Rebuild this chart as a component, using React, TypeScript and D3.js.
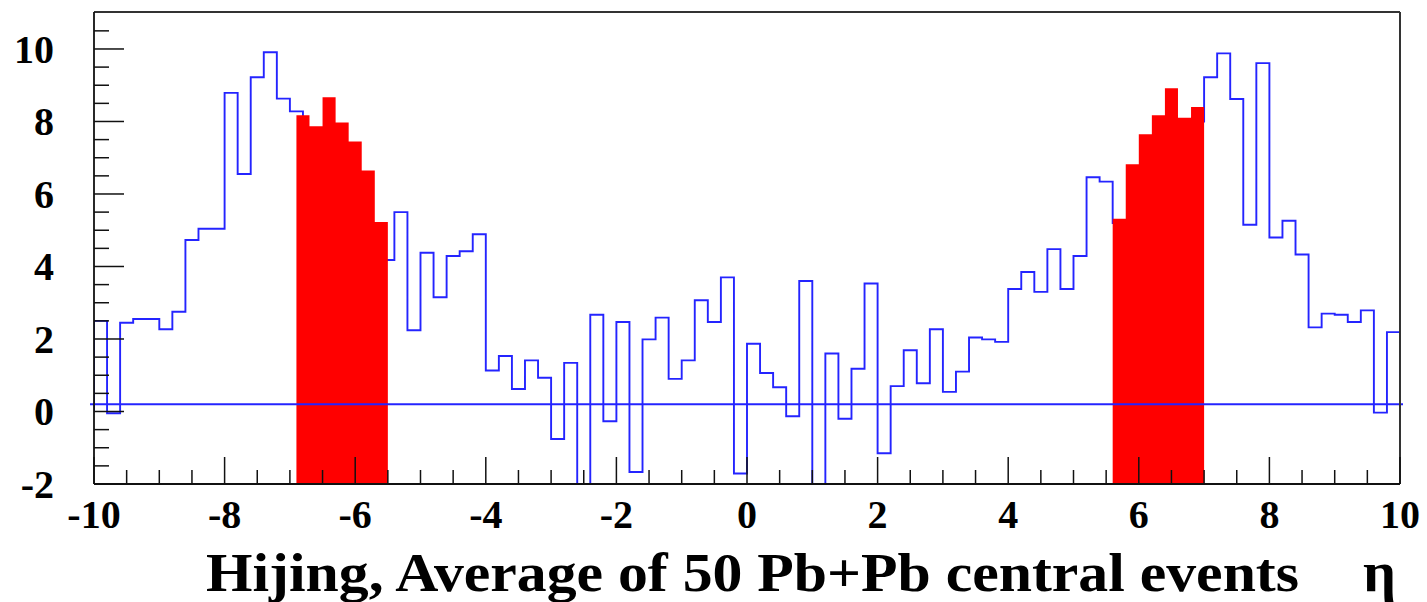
import React from "react";
import * as d3 from "d3";

// ---- data ----
const etaMin = -10;
const etaMax = 10;
const binWidth = 0.2;
// 100 bins of 0.2 from -10 to 10 (blue histogram; bins under the red fill are estimates)
const blueValues: number[] = [
  2.5, -0.05, 2.45, 2.55, 2.55, 2.27, 2.75, 4.73, 5.04, 5.04,
  8.79, 6.55, 9.22, 9.91, 8.63, 8.28, 7.8, 7.8, 7.9, 7.4,
  6.6, 5.0, 4.18, 5.5, 2.24, 4.38, 3.15, 4.29, 4.42, 4.89,
  1.13, 1.53, 0.62, 1.41, 0.93, -0.76, 1.34, -2.5, 2.67, -0.27,
  2.47, -1.67, 1.99, 2.59, 0.9, 1.41, 3.07, 2.47, 3.7, -1.71,
  1.87, 1.06, 0.67, -0.13, 3.6, -2.5, 1.6, -0.2, 1.18, 3.53,
  -1.15, 0.7, 1.69, 0.78, 2.27, 0.54, 1.1, 2.04, 1.99, 1.92,
  3.38, 3.85, 3.3, 4.48, 3.38, 4.29, 6.46, 6.34, 5.2, 5.2,
  6.7, 7.5, 8.0, 8.0, 8.0, 9.22, 9.88, 8.62, 5.15, 9.61,
  4.8, 5.26, 4.33, 2.32, 2.7, 2.67, 2.47, 2.79, -0.03, 2.19,
];
// red filled regions
const redLeftStarts: number[] = [-6.9, -6.7, -6.5, -6.3, -6.1, -5.9, -5.7];
const redLeftValues: number[] = [8.17, 7.87, 8.67, 7.97, 7.45, 6.65, 5.23];
const redRightStarts: number[] = [5.6, 5.8, 6.0, 6.2, 6.4, 6.6, 6.8];
const redRightValues: number[] = [5.32, 6.82, 7.65, 8.17, 8.92, 8.1, 8.4];
const refLineValue = 0.2;
const yMin = -2;
const yMax = 11.02;
const xTickLabels: number[] = [-10, -8, -6, -4, -2, 0, 2, 4, 6, 8, 10];
const yTickLabels: number[] = [-2, 0, 2, 4, 6, 8, 10];
const titleText = "Hijing, Average of 50 Pb+Pb central events";
const etaText = "η";

const W = 1427;
const H = 602;
const FONT = "'Liberation Serif', 'Times New Roman', serif";

export default function App() {
  const x = d3.scaleLinear().domain([etaMin, etaMax]).range([94, 1400]);
  const y = d3.scaleLinear().domain([yMin, yMax]).range([484, 12]);

  // blue histogram outline
  const pts: [number, number][] = [[x(etaMin), y(0)]];
  blueValues.forEach((v, i) => {
    const lo = etaMin + i * binWidth;
    const hi = lo + binWidth;
    pts.push([x(lo), y(v)]);
    pts.push([x(hi), y(v)]);
  });
  pts.push([x(etaMax), y(0)]);
  const bluePath = d3.line()(pts) || "";

  const redPath = (starts: number[], vals: number[]) => {
    const data = starts.map((s, i) => ({ s, v: vals[i] }));
    data.push({ s: starts[starts.length - 1] + binWidth, v: vals[vals.length - 1] });
    const area = d3
      .area<{ s: number; v: number }>()
      .x((d) => x(d.s))
      .y0(y(yMin))
      .y1((d) => y(d.v))
      .curve(d3.curveStepAfter);
    return area(data) || "";
  };

  const yTicks = d3.range(yMin, 10.51, 0.5);
  const xTicks = d3.range(etaMin, etaMax + 0.01, 0.5);
  const isMajor = (v: number) => Math.abs(v / 2 - Math.round(v / 2)) < 1e-6;

  return (
    <svg
      width={W}
      height={H}
      style={{ position: "fixed", left: 0, top: 0, display: "block", background: "#fff" }}
    >
      <defs>
        <clipPath id="plotClip">
          <rect x={x(etaMin)} y={y(yMax)} width={x(etaMax) - x(etaMin)} height={y(yMin) - y(yMax)} />
        </clipPath>
      </defs>
      <rect x={0} y={0} width={W} height={H} fill="#fff" />
      <g clipPath="url(#plotClip)">
        <path d={bluePath} fill="none" stroke="#2424ff" strokeWidth={1.9} />
        <path d={redPath(redLeftStarts, redLeftValues)} fill="#ff0000" />
        <path d={redPath(redRightStarts, redRightValues)} fill="#ff0000" />
      </g>
      <line
        x1={x(etaMin) - 4}
        x2={x(etaMax) + 3}
        y1={y(refLineValue)}
        y2={y(refLineValue)}
        stroke="#2424ff"
        strokeWidth={1.9}
      />
      {/* frame */}
      <line x1={x(etaMin)} x2={x(etaMax)} y1={y(yMax)} y2={y(yMax)} stroke="#333" strokeWidth={2} />
      <line x1={x(etaMax)} x2={x(etaMax)} y1={y(yMax)} y2={y(yMin)} stroke="#333" strokeWidth={2} />
      <line x1={x(etaMin)} x2={x(etaMax)} y1={y(yMin)} y2={y(yMin)} stroke="#111" strokeWidth={1.8} />
      <line x1={x(etaMin)} x2={x(etaMin)} y1={y(yMax)} y2={y(yMin)} stroke="#111" strokeWidth={1.8} />
      {yTicks.map((v) => (
        <line
          key={"yt" + v}
          x1={x(etaMin)}
          x2={x(etaMin) + (isMajor(v) ? 30 : 15)}
          y1={y(v)}
          y2={y(v)}
          stroke="#111"
          strokeWidth={1.5}
        />
      ))}
      {xTicks.map((v) => (
        <line
          key={"xt" + v}
          x1={x(v)}
          x2={x(v)}
          y1={y(yMin)}
          y2={y(yMin) - (isMajor(v) ? 27 : 14)}
          stroke="#111"
          strokeWidth={1.5}
        />
      ))}
      {yTickLabels.map((v) => (
        <text
          key={"yl" + v}
          x={54}
          y={y(v) + 14}
          textAnchor="end"
          fontFamily={FONT}
          fontWeight="bold"
          fontSize={40}
          fill="#000"
        >
          {v}
        </text>
      ))}
      {xTickLabels.map((v) => (
        <text
          key={"xl" + v}
          x={x(v)}
          y={528}
          textAnchor="middle"
          fontFamily={FONT}
          fontWeight="bold"
          fontSize={40}
          fill="#000"
        >
          {v}
        </text>
      ))}
      <text
        x={206}
        y={591}
        fontFamily={FONT}
        fontWeight="bold"
        fontSize={54}
        textLength={1093}
        lengthAdjust="spacingAndGlyphs"
        fill="#000"
      >
        {titleText}
      </text>
      <text
        x={1363}
        y={591}
        fontFamily={FONT}
        fontWeight="bold"
        fontSize={56}
        textLength={33}
        lengthAdjust="spacingAndGlyphs"
        fill="#000"
      >
        {etaText}
      </text>
    </svg>
  );
}
